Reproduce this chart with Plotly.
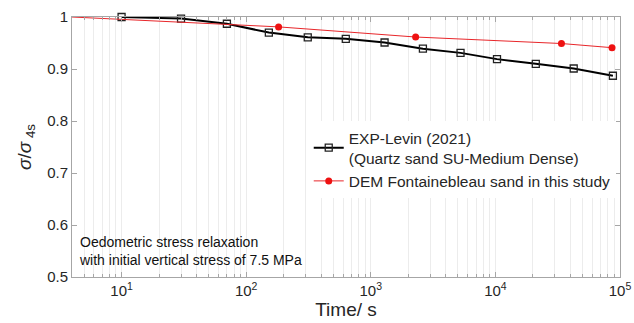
import plotly.graph_objects as go

exp_t = [10, 30, 70, 152, 312, 630, 1290, 2620, 5250, 10300, 21100, 42500, 87700]
exp_r = [1.000, 0.997, 0.987, 0.970, 0.961, 0.958, 0.951, 0.939, 0.931, 0.919, 0.910, 0.901, 0.887]
dem_t = [4, 182, 2290, 33900, 86300]
dem_r = [1.000, 0.981, 0.9615, 0.949, 0.941]

x_major = [10, 100, 1000, 10000, 100000]
x_major_text = ["10<sup>1</sup>", "10<sup>2</sup>", "10<sup>3</sup>", "10<sup>4</sup>", "10<sup>5</sup>"]
x_minor = [m * 10 ** e for e in range(0, 5) for m in range(1, 10) if 4 <= m * 10 ** e <= 100000]
y_ticks = [0.5, 0.6, 0.7, 0.8, 0.9, 1.0]
y_text = ["0.5", "0.6", "0.7", "0.8", "0.9", "1"]

FONT = "Liberation Sans, Arial, sans-serif"
TXT = "#262626"
AX = "#a6a6a6"

fig = go.Figure()
fig.add_trace(go.Scatter(
    x=exp_t, y=exp_r, mode="lines+markers",
    name="EXP-Levin (2021)<br>(Quartz sand SU-Medium Dense)",
    line=dict(color="black", width=2),
    marker=dict(symbol="square-open", size=7, color="#222222", line=dict(width=1.3)),
    cliponaxis=False,
))
fig.add_trace(go.Scatter(
    x=dem_t, y=dem_r, mode="lines+markers",
    name="DEM Fontainebleau sand in this study",
    line=dict(color="#e8262a", width=1),
    marker=dict(symbol="circle", size=7, color="#ee1111"),
    cliponaxis=False,
))

fig.update_layout(
    width=634, height=323,
    margin=dict(l=72, r=14, t=17, b=46),
    paper_bgcolor="white", plot_bgcolor="white",
    font=dict(family=FONT, color=TXT, size=15),
    showlegend=True,
    legend=dict(x=0.432, y=0.6, xanchor="left", yanchor="top",
                bgcolor="rgba(255,255,255,1)", borderwidth=0,
                font=dict(size=15.5, color=TXT), tracegroupgap=0,
                itemwidth=30),
    xaxis=dict(
        type="log", range=[0.60206, 5], automargin=False,
        tickmode="array", tickvals=x_major, ticktext=x_major_text,
        ticks="inside", ticklen=5, tickcolor=AX,
        showline=True, linecolor=AX, linewidth=1, mirror="ticks",
        showgrid=True, gridcolor="#ececec", gridwidth=1,
        minor=dict(tickmode="array", tickvals=x_minor, ticks="inside", ticklen=3,
                   tickcolor=AX, showgrid=True, gridcolor="#ececec", gridwidth=1),
        tickfont=dict(size=15, color=TXT),
        title=dict(text="Time/ s", font=dict(size=19, color=TXT), standoff=2),
        zeroline=False,
    ),
    yaxis=dict(
        range=[0.5, 1.0], automargin=False,
        tickmode="array", tickvals=y_ticks, ticktext=y_text,
        ticks="inside", ticklen=5, tickcolor=AX,
        showline=True, linecolor=AX, linewidth=1, mirror="ticks",
        showgrid=False, zeroline=False,
        tickfont=dict(size=15, color=TXT),
        title=dict(text="<i>σ</i>/<i>σ</i><sub> 4s</sub>", font=dict(size=19, color=TXT), standoff=10),
    ),
    annotations=[dict(
        xref="paper", yref="paper", x=0.01, y=0.028, xanchor="left", yanchor="bottom",
        text="Oedometric stress relaxation<br>with initial vertical stress of 7.5 MPa",
        showarrow=False, align="left", font=dict(size=14, color="#111111"),
    )],
)

fig.write_html("out.html")
